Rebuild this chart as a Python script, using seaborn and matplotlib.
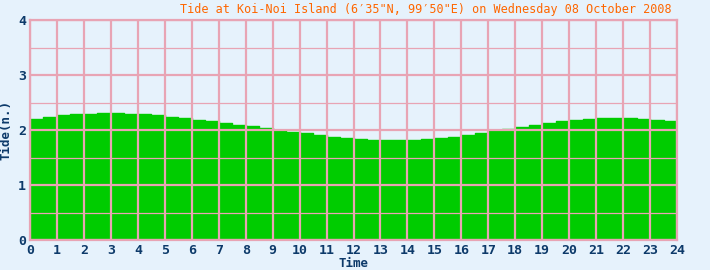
import numpy as np
import pandas as pd
import matplotlib
matplotlib.use("Agg")
import matplotlib.pyplot as plt
import seaborn as sns

hours = [0, 0.5, 1, 1.5, 2, 2.5, 3, 3.5, 4, 4.5, 5, 5.5, 6, 6.5, 7, 7.5, 8, 8.5,
         9, 9.5, 10, 10.5, 11, 11.5, 12, 12.5, 13, 13.5, 14, 14.5, 15, 15.5, 16,
         16.5, 17, 17.5, 18, 18.5, 19, 19.5, 20, 20.5, 21, 21.5, 22, 22.5, 23, 23.5, 24]
tide = [2.20, 2.24, 2.27, 2.29, 2.30, 2.31, 2.31, 2.30, 2.29, 2.27, 2.24, 2.21,
        2.19, 2.16, 2.13, 2.10, 2.07, 2.04, 2.00, 1.97, 1.94, 1.91, 1.88, 1.86,
        1.84, 1.82, 1.82, 1.82, 1.82, 1.83, 1.85, 1.88, 1.91, 1.95, 1.98, 2.02,
        2.06, 2.10, 2.13, 2.16, 2.19, 2.20, 2.21, 2.21, 2.21, 2.20, 2.18, 2.17, 2.16]
x_ticks = list(range(0, 25))
y_ticks = [0, 1, 2, 3, 4]
title = "Tide at Koi-Noi Island (6\u203235\"N, 99\u203250\"E) on Wednesday 08 October 2008"

df = pd.DataFrame({"Time": hours, "Tide": tide})

bg = "#e6f2fc"
pink = "#e8a4b4"
green = "#00cc00"
navy = "#0d3a6a"

sns.set_theme(style="white")
plt.rcParams["font.family"] = ["DejaVu Sans Mono", "DejaVu Sans"]

fig = plt.figure(figsize=(7.1, 2.7), dpi=100)
fig.patch.set_facecolor(bg)
ax = fig.add_axes([30 / 710, 1 - 240 / 270, 647 / 710, 220 / 270])
ax.set_facecolor(bg)

ax.fill_between(df["Time"], df["Tide"], 0, step="post", color=green, lw=0, zorder=1)
sns.lineplot(data=df, x="Time", y="Tide", drawstyle="steps-post", color=green,
             lw=1, ax=ax, zorder=1)

ax.set_xlim(0, 24)
ax.set_ylim(0, 4)
ax.set_xticks(x_ticks)
ax.set_yticks(y_ticks)
ax.set_xticklabels([str(v) for v in x_ticks])
ax.set_yticklabels([str(v) for v in y_ticks])

for h in x_ticks:
    ax.axvline(h, color=pink, lw=1.6, zorder=3)
for v in y_ticks:
    ax.axhline(v, color=pink, lw=1.6, zorder=3)
for v in [0.5, 1.5, 2.5, 3.5]:
    ax.axhline(v, color=pink, lw=0.9, zorder=3)

for s in ax.spines.values():
    s.set_color(pink)
    s.set_linewidth(1.6)
    s.set_zorder(4)

ax.tick_params(axis="both", length=0, pad=3, colors=navy, labelsize=9.5)
for lab in ax.get_xticklabels() + ax.get_yticklabels():
    lab.set_fontweight("bold")

ax.set_xlabel("Time", color=navy, fontsize=9, fontweight="bold", labelpad=0)
ax.set_ylabel("Tide(n.)", color=navy, fontsize=9, fontweight="bold", labelpad=4)

fig.text(672 / 710, 1 - 9 / 270, title, color="#ff6600", fontsize=8.5,
         ha="right", va="center")

fig.savefig("out.png", dpi=100, facecolor=bg)
